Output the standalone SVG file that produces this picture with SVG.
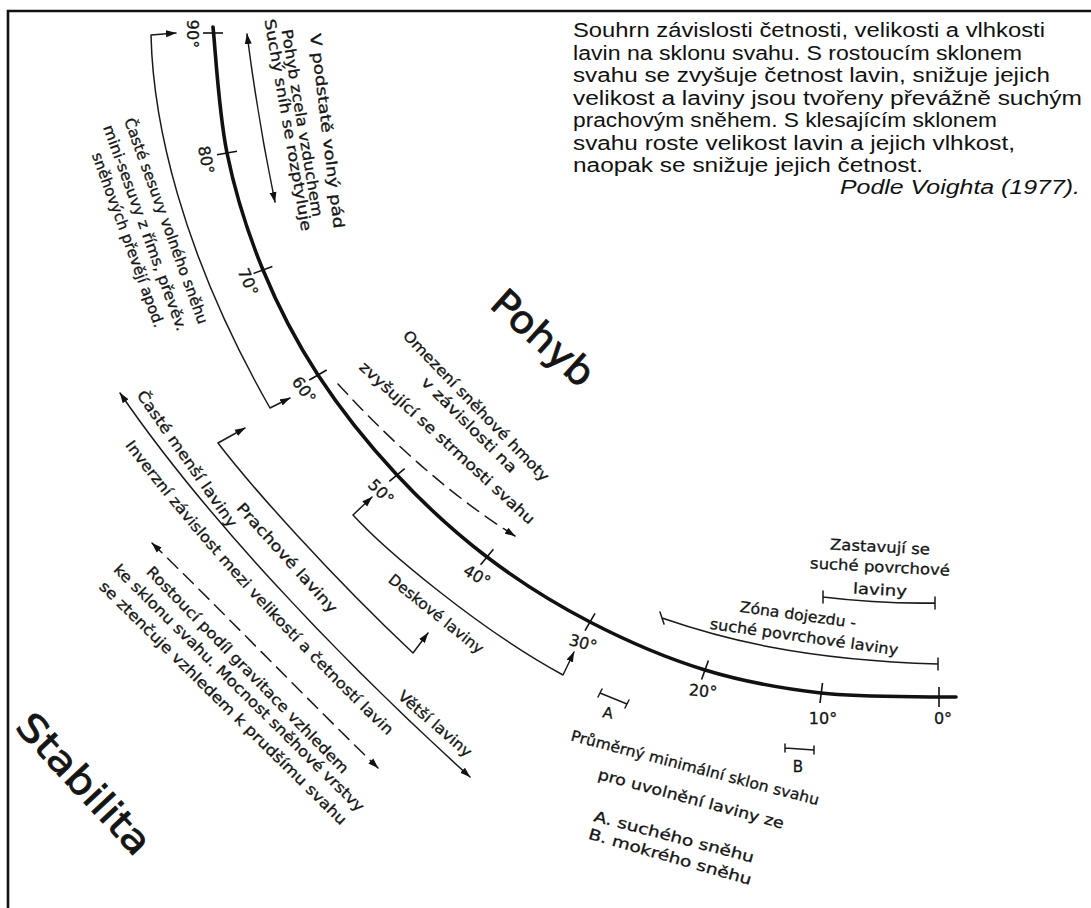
<svg xmlns="http://www.w3.org/2000/svg" width="1091" height="908" viewBox="0 0 1091 908">
<style>
.ln{fill:none;stroke:#1a1a1a;stroke-width:1.5;stroke-linecap:round;stroke-linejoin:round}
.dash{stroke-dasharray:14 8}
.main{fill:none;stroke:#111;stroke-width:3.6;stroke-linecap:round}
.tk{stroke:#111;stroke-width:1.6}
.t{font-family:"DejaVu Sans",sans-serif;font-size:15px;fill:#151515;stroke:#151515;stroke-width:0.3;text-anchor:middle;dominant-baseline:central}
.deg{font-size:16px}
.big{font-size:38px;stroke-width:0.8}
.p{font-family:"Liberation Sans",Arial,sans-serif;font-size:20px;fill:#111}
</style>
<defs>
<marker id="ah" markerUnits="userSpaceOnUse" markerWidth="11" markerHeight="8" refX="10" refY="4" orient="auto-start-reverse" viewBox="0 0 11 8"><path d="M0,0.5 L10.5,4 L0,7.5 Z" fill="#111"/></marker>
<path id="p-inv" d="M98 408 C179 525 312 669 452 796"/>
</defs>
<rect width="1091" height="908" fill="#fff"/>
<g id="border" fill="none" stroke="#111" stroke-width="2.6">
<path d="M8 908 L8 11 L1091 11"/>
</g>
<g id="slope-curve">
<path class="main" d="M213 27 C215.3 48 218.7 112.5 227 153 C235.3 193.5 247.8 233 263 270 C278.2 307 295.7 340.8 318 375 C340.3 409.2 368.8 444.7 397 475 C425.2 505.3 454.8 532.5 487 557 C519.2 581.5 553.7 603.2 590 622 C626.3 640.8 666.5 658.2 705 670 C743.5 681.8 782 688.5 821 693 C860 697.5 916.3 696.3 939 697 L956 697"/>
<g class="tk">
<line x1="203" y1="33" x2="223" y2="33"/>
<line x1="217" y1="154.7" x2="237" y2="151.3"/>
<line x1="253.6" y1="273.4" x2="272.4" y2="266.6"/>
<line x1="309.3" y1="380" x2="326.7" y2="370"/>
<line x1="389.3" y1="481.4" x2="404.7" y2="468.6"/>
<line x1="480.6" y1="564.7" x2="493.4" y2="549.3"/>
<line x1="585" y1="630.7" x2="595" y2="613.3"/>
<line x1="701.6" y1="679.4" x2="708.4" y2="660.6"/>
<line x1="820" y1="703" x2="822.5" y2="683"/>
<line x1="939" y1="687" x2="939" y2="707"/>
</g>
</g>
<g id="tick-labels">
<text class="t deg" transform="translate(192 34) rotate(90)">90°</text>
<text class="t deg" transform="translate(206 160) rotate(80)">80°</text>
<text class="t deg" transform="translate(248 282) rotate(68)">70°</text>
<text class="t deg" transform="translate(304 390) rotate(55)">60°</text>
<text class="t deg" transform="translate(381 492) rotate(45)">50°</text>
<text class="t deg" transform="translate(477 576) rotate(30)">40°</text>
<text class="t deg" transform="translate(583 643) rotate(15)">30°</text>
<text class="t deg" transform="translate(703 691) rotate(5)">20°</text>
<text class="t deg" transform="translate(823 718)">10°</text>
<text class="t deg" transform="translate(943 718)">0°</text>
</g>
<g id="connectors">
<path class="ln" d="M176 33 L151 35 C153 120 180 250 270 408 L290 398" marker-start="url(#ah)" marker-end="url(#ah)"/>
<path class="ln" d="M247 34 Q258 120 275 202" marker-start="url(#ah)" marker-end="url(#ah)"/>
<path class="ln dash" d="M338 384 Q426 480 515 536" marker-end="url(#ah)"/>
<path class="ln" d="M245 428 L218 443 C250 485 330 575 413 653 L428 633" marker-start="url(#ah)" marker-end="url(#ah)"/>
<path class="ln" d="M372 497 L353 515 C385 550 480 630 563 675 L574 652" marker-start="url(#ah)" marker-end="url(#ah)"/>
<path class="ln" d="M120 393 C200 510 330 650 470 777" marker-start="url(#ah)" marker-end="url(#ah)"/>
<path class="ln dash" d="M152 543 C222 611 300 692 378 768" marker-start="url(#ah)" marker-end="url(#ah)"/>
<path class="ln" d="M823 597 Q880 604 935 603 M823 591 L823 603 M935 597 L935 609"/>
<path class="ln" d="M662 618 C720 638 800 660 938 664 M660 612 L664 624 M938 658 L938 670"/>
<path class="ln" d="M600 693 L627 704 M602 689 L598 697 M629 700 L625 708"/>
<path class="ln" d="M785 748 L814 750 M785 744 L785 752 M814 746 L814 754"/>
</g>
<g id="label-pohyb"><text class="t big" transform="translate(543 338) rotate(42)" textLength="124" lengthAdjust="spacingAndGlyphs">Pohyb</text></g>
<g id="label-stabilita"><text class="t big" transform="translate(84 784) rotate(47)" textLength="178" lengthAdjust="spacingAndGlyphs">Stabilita</text></g>
<g id="label-volny-pad">
<text class="t" transform="translate(327 131) rotate(83)" textLength="196" lengthAdjust="spacingAndGlyphs">V podstatě volný pád</text>
<text class="t" transform="translate(302 123) rotate(80.5)" textLength="190" lengthAdjust="spacingAndGlyphs">Pohyb zcela vzduchem</text>
<text class="t" transform="translate(288 125) rotate(80)" textLength="215" lengthAdjust="spacingAndGlyphs">Suchý sníh se rozptyluje</text>
</g>
<g id="label-sesuvy">
<text class="t" transform="translate(166 221) rotate(70)" textLength="218" lengthAdjust="spacingAndGlyphs">Časté sesuvy volného sněhu</text>
<text class="t" transform="translate(145 228) rotate(70)" textLength="218" lengthAdjust="spacingAndGlyphs">mini-sesuvy z říms, převěv.</text>
<text class="t" transform="translate(128 240) rotate(70)" textLength="185" lengthAdjust="spacingAndGlyphs">sněhových převějí apod.</text>
</g>
<g id="label-omezeni">
<text class="t" transform="translate(476 406) rotate(46)" textLength="203" lengthAdjust="spacingAndGlyphs">Omezení sněhové hmoty</text>
<text class="t" transform="translate(469 425) rotate(45)" textLength="128" lengthAdjust="spacingAndGlyphs">v závislosti na</text>
<text class="t" transform="translate(447 443) rotate(42.6)" textLength="232" lengthAdjust="spacingAndGlyphs">zvyšující se strmosti svahu</text>
</g>
<g id="label-caste-mensi"><text class="t" transform="translate(187 459) rotate(55)" textLength="163" lengthAdjust="spacingAndGlyphs">Časté menší laviny</text></g>
<g id="label-prachove"><text class="t" transform="translate(287 558) rotate(48)" textLength="142" lengthAdjust="spacingAndGlyphs">Prachové laviny</text></g>
<g id="label-deskove"><text class="t" transform="translate(436 614) rotate(38.7)" textLength="117" lengthAdjust="spacingAndGlyphs">Deskové laviny</text></g>
<g id="label-vetsi"><text class="t" transform="translate(435 724) rotate(41)" textLength="92" lengthAdjust="spacingAndGlyphs">Větší laviny</text></g>
<g id="label-inverzni"><text style="font-family:'DejaVu Sans',sans-serif;font-size:15px;fill:#151515;stroke:#151515;stroke-width:0.3"><textPath href="#p-inv" startOffset="46" textLength="392" lengthAdjust="spacingAndGlyphs">Inverzní závislost mezi velikostí a četností lavin</textPath></text></g>
<g id="label-rostouci">
<text class="t" transform="translate(247.5 670) rotate(45.7)" textLength="282" lengthAdjust="spacingAndGlyphs">Rostoucí podíl gravitace vzhledem</text>
<text class="t" transform="translate(239 688) rotate(44.6)" textLength="345" lengthAdjust="spacingAndGlyphs">ke sklonu svahu. Mocnost sněhové vrstvy</text>
<text class="t" transform="translate(223 703) rotate(44.5)" textLength="340" lengthAdjust="spacingAndGlyphs">se ztenčuje vzhledem k prudšímu svahu</text>
</g>
<g id="label-zastavuji">
<text class="t" transform="translate(880 547) rotate(3)" textLength="100" lengthAdjust="spacingAndGlyphs">Zastavují se</text>
<text class="t" transform="translate(880 567) rotate(3)" textLength="140" lengthAdjust="spacingAndGlyphs">suché povrchové</text>
<text class="t" transform="translate(880 590) rotate(3)" textLength="54" lengthAdjust="spacingAndGlyphs">laviny</text>
</g>
<g id="label-zona">
<text class="t" transform="translate(798 615) rotate(8)" textLength="117" lengthAdjust="spacingAndGlyphs">Zóna dojezdu -</text>
<text class="t" transform="translate(804 637) rotate(8)" textLength="190" lengthAdjust="spacingAndGlyphs">suché povrchové laviny</text>
</g>
<g id="label-a"><text class="t" transform="translate(608 713) rotate(10)">A</text></g>
<g id="label-b"><text class="t" transform="translate(798 767)">B</text></g>
<g id="label-prumerny">
<text class="t" transform="translate(695 768) rotate(14.7)" textLength="256" lengthAdjust="spacingAndGlyphs">Průměrný minimální sklon svahu</text>
<text class="t" transform="translate(691 799) rotate(15)" textLength="192" lengthAdjust="spacingAndGlyphs">pro uvolnění laviny ze</text>
<text class="t" transform="translate(674 837) rotate(14.7)" textLength="165" lengthAdjust="spacingAndGlyphs">A.  suchého sněhu</text>
<text class="t" transform="translate(670 857) rotate(16)" textLength="169" lengthAdjust="spacingAndGlyphs">B.  mokrého sněhu</text>
</g>
<g id="summary">
<text class="p" x="573" y="37" textLength="472" lengthAdjust="spacingAndGlyphs">Souhrn závislosti četnosti, velikosti a vlhkosti</text>
<text class="p" x="573" y="59.5" textLength="449" lengthAdjust="spacingAndGlyphs">lavin na sklonu svahu. S rostoucím sklonem</text>
<text class="p" x="573" y="82" textLength="477" lengthAdjust="spacingAndGlyphs">svahu se zvyšuje četnost lavin, snižuje jejich</text>
<text class="p" x="573" y="104.5" textLength="509" lengthAdjust="spacingAndGlyphs">velikost a laviny jsou tvořeny převážně suchým</text>
<text class="p" x="573" y="127" textLength="424" lengthAdjust="spacingAndGlyphs">prachovým sněhem. S klesajícím sklonem</text>
<text class="p" x="573" y="149.5" textLength="442" lengthAdjust="spacingAndGlyphs">svahu roste velikost lavin a jejich vlhkost,</text>
<text class="p" x="573" y="172" textLength="350" lengthAdjust="spacingAndGlyphs">naopak se snižuje jejich četnost.</text>
<text class="p" x="1080" y="194" text-anchor="end" font-style="italic" textLength="240" lengthAdjust="spacingAndGlyphs">Podle Voighta (1977).</text>
</g>
</svg>
